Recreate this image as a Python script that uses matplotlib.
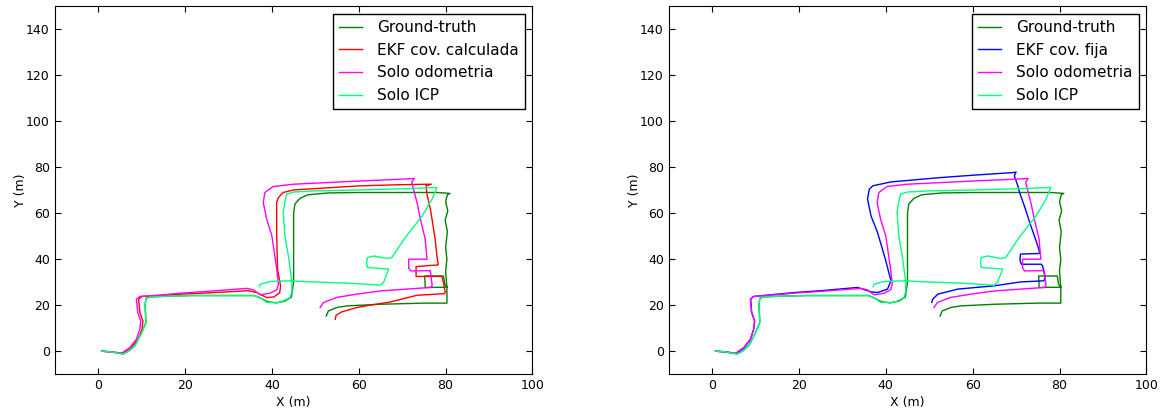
import numpy as np
import matplotlib
matplotlib.use("Agg")
import matplotlib.pyplot as plt

# Trayectorias (x, y en metros)
gt_x = [0.8, 3, 5.7, 7, 8.5, 10, 11, 10.8, 11, 12, 17, 22, 30, 36, 37.5, 39, 41, 43, 44.5,
        45, 45, 45, 45.3, 46.5, 48.3, 53, 60, 70, 78, 81, 80.4, 80, 80.5, 79.9, 80.4, 80, 80.3,
        80, 80.2, 80.3, 75.3, 75.2, 79.5, 79.8, 80.3, 80.3, 75, 65, 57.3, 55, 53, 52.5]
gt_y = [0, -0.3, -1.2, 0, 2.5, 8, 12.5, 20, 23, 23.6, 24, 24.2, 24.2, 24.2, 23, 21.5, 21, 21.8, 23.5,
        30, 45, 60, 64, 66.5, 68, 68.8, 69, 69, 69, 68.6, 68, 65, 61, 57, 52, 45, 40,
        35, 30, 27.8, 27.7, 32.7, 32.7, 29, 28, 20.9, 20.9, 20.4, 19.7, 19, 17.5, 15.3]

icp_x = [0.8, 3, 5.7, 7, 8.5, 10, 11, 10.8, 11, 12, 17, 22, 30, 36, 37.3, 38.8, 41.9, 44.2,
         44.6, 44.6, 43.8, 43, 42.6, 43, 43.4, 45, 50, 60.3, 70, 78, 76.9, 74.6, 70.7, 67.6,
         66.5, 63.4, 62, 61.8, 62, 66.9, 65.7, 65, 57.3, 49.6, 44.2, 39.6, 37.3, 37.1]
icp_y = [0, -0.3, -1.2, 0, 2.5, 8, 12.5, 20, 23, 23.6, 24, 24.2, 24.2, 24.2, 23.3, 21.2, 21.2, 23.3,
         26, 30, 41.4, 50, 60.4, 65, 68.3, 69.2, 69.7, 70.1, 70.6, 71.2, 66.1, 58.8, 49.4, 40.7,
         40.3, 41.4, 40.7, 38, 36.4, 35.7, 29.9, 28.7, 29.6, 30.1, 30.6, 30.3, 29.1, 28]

odo_x = [0.8, 3, 5.4, 7.3, 8.8, 9.6, 9.8, 9.1, 8.8, 9.6, 13.4, 18.8, 25, 34.2, 35.7, 37.3, 39.6,
         41.1, 41.5, 41.1, 40, 38.8, 38, 38.4, 40.3, 45, 60.3, 70, 72.8, 72.2, 72.6, 73.4, 74.2,
         75.3, 75.7, 71.5, 71.5, 72, 76.5, 76.9, 76.5, 65, 59.6, 55, 51.9, 51.1]
odo_y = [0, -0.3, -0.9, 1.6, 5.2, 9.6, 13.2, 16.8, 22.6, 23.8, 24.3, 25.2, 26, 27.3, 26.7, 24.5, 25.2,
         26.7, 29.1, 35.7, 50.1, 57.4, 64.7, 69, 71.6, 72.6, 74, 74.8, 75.1, 73.5, 70.4, 64.7, 57.4,
         48.7, 40, 40, 36, 34.9, 35, 28.4, 27.7, 26.2, 24.8, 23.4, 21.2, 19]

ekf_calc_x = [0.8, 3, 5.6, 7.6, 9.2, 10.1, 10.3, 9.6, 9.3, 10.1, 13.8, 19, 25, 34.5, 36.5, 38.8,
              40.5, 41.8, 42, 41.3, 41.1, 41.1, 41.5, 42.6, 45, 60.3, 70, 76.7, 75.5, 75.7, 76.5,
              77.6, 78, 78.3, 73.2, 73.2, 79.1, 79.5, 79.9, 79.6, 73.4, 67.3, 62.6, 59.6, 56.1,
              54.8, 54.6]
ekf_calc_y = [0, -0.3, -0.9, 1.6, 5.2, 9.6, 13.2, 16.8, 22.6, 23.8, 24.1, 24.8, 25.3, 26.3, 25.5, 23.3,
              23.6, 25.5, 28.4, 35.7, 50, 64.7, 66.8, 69, 70.1, 71.9, 72.4, 72.6, 71.9, 68.3, 61.7,
              48.7, 41.4, 37.5, 36.8, 32.5, 32.5, 29.9, 25.5, 25, 24.3, 21.4, 20, 19, 17.1,
              15.7, 13.9]

ekf_fija_x = [0.8, 3, 5.6, 7.4, 8.8, 9.6, 9.8, 9.1, 8.9, 9.5, 13.4, 19, 25, 33.5, 36.6, 38.1, 40.4,
              41.2, 39.9, 38.1, 36.6, 35.8, 36.2, 37, 41.2, 52.7, 60, 69.6, 70, 69.6, 70.4, 70.8,
              71.9, 73.4, 75, 75.5, 71, 70.9, 71.2, 75.8, 76.1, 76.7, 76.4, 71, 64.9, 56.6, 52,
              50.8, 50.6]
ekf_fija_y = [0, -0.3, -1, 1.5, 5, 9.6, 13, 17, 22.6, 23.8, 24.5, 25.5, 26.3, 27.7, 25.8, 25.5, 27,
              30.6, 40, 51.6, 58.8, 66.1, 70.4, 71.9, 73.6, 75.5, 76.5, 77.7, 77.9, 76.2, 71.9, 69,
              63.2, 54.5, 45.8, 42.5, 42.2, 39.5, 37.8, 37.8, 37.1, 32, 30.6, 30.1, 28.4, 27, 24.8,
              22.6, 21.2]

plt.rcParams['font.family'] = 'DejaVu Sans'

fig, (ax1, ax2) = plt.subplots(1, 2, figsize=(11.65, 4.13), dpi=100)
fig.subplots_adjust(left=0.047, right=0.984, bottom=0.094, top=0.985, wspace=0.285)

paneles = [
    (ax1, 'EKF cov. calculada', ekf_calc_x, ekf_calc_y, '#ff0000'),
    (ax2, 'EKF cov. fija', ekf_fija_x, ekf_fija_y, '#0000ff'),
]

for ax, nombre, ex, ey, col in paneles:
    ax.plot(gt_x, gt_y, color='#008000', lw=1, label='Ground-truth')
    ax.plot(ex, ey, color=col, lw=1, label=nombre)
    ax.plot(odo_x, odo_y, color='#ff00ff', lw=1, label='Solo odometria')
    ax.plot(icp_x, icp_y, color='#00ff7f', lw=1, label='Solo ICP')
    ax.set_xlim(-10, 100)
    ax.set_ylim(-10, 150)
    ax.set_xticks(np.arange(0, 101, 20))
    ax.set_yticks(np.arange(0, 141, 20))
    ax.tick_params(direction='in', top=True, right=True, labelsize=9, length=4)
    ax.set_xlabel('X (m)', fontsize=9, labelpad=3)
    ax.set_ylabel('Y (m)', fontsize=9, labelpad=-1)
    leg = ax.legend(loc='upper right', fontsize=11, fancybox=False, framealpha=1,
                    edgecolor='black', handlelength=1.5, handletextpad=1.0,
                    borderaxespad=0.5)
    leg.get_frame().set_linewidth(1)

plt.savefig('out.png')
